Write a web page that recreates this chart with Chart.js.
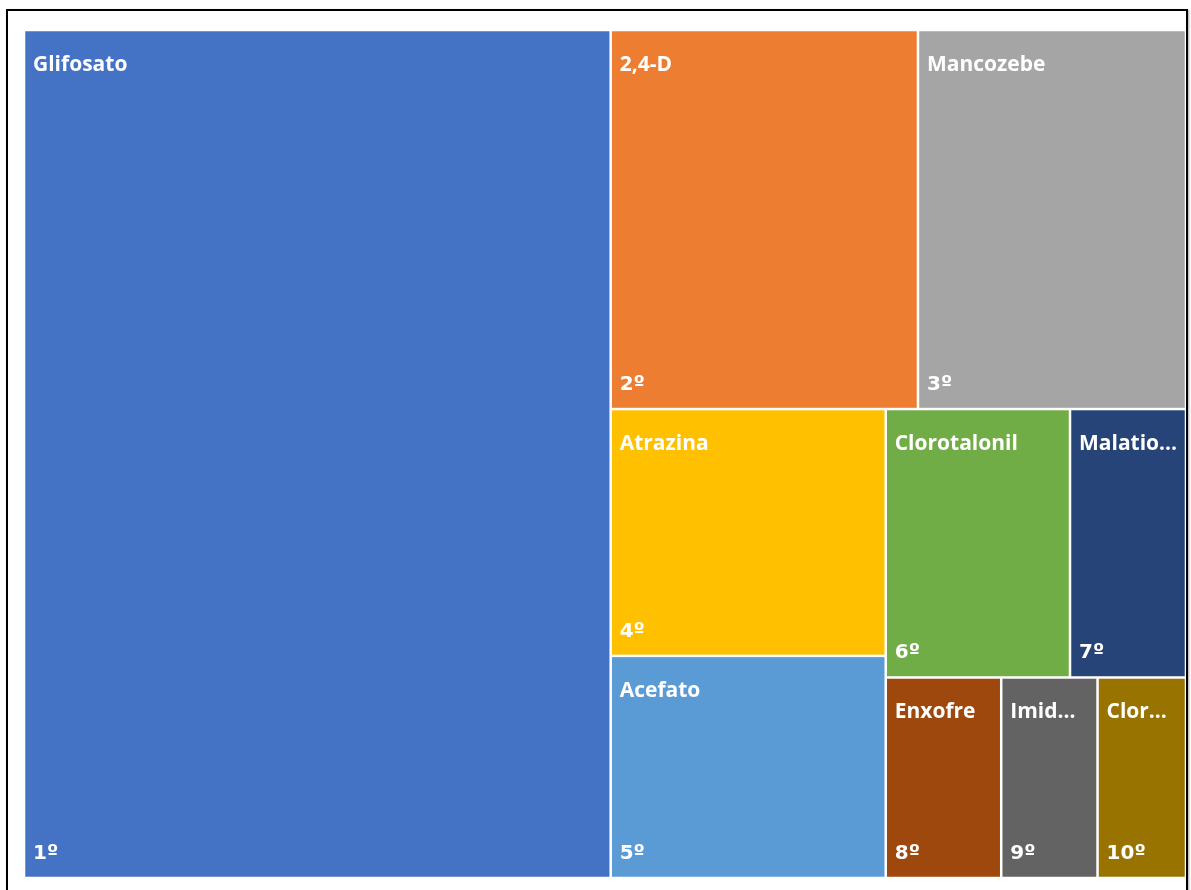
<!DOCTYPE html>
<html>
<head>
<meta charset="utf-8">
<script src="https://cdn.jsdelivr.net/npm/chart.js@4.4.1/dist/chart.umd.min.js"></script>
<style>
  html, body { margin: 0; padding: 0; background: #fff; overflow: hidden; }
  #frame {
    position: absolute; left: 6px; top: 9px; width: 1178px; height: 900px;
    border: 2px solid #000; box-shadow: 1px 1px 2px rgba(0,0,0,0.35);
  }
  #wrap { position: absolute; left: 0; top: 0; width: 1191px; height: 890px; }
</style>
</head>
<body>
<div id="frame"></div>
<div id="wrap"><canvas id="treeChart" width="1191" height="890"></canvas></div>
<script>
// ranking dos ingredientes ativos (participação em %)
const categories = ['Glifosato', '2,4-D', 'Mancozebe', 'Atrazina', 'Acefato', 'Clorotalonil', 'Malatio...', 'Enxofre', 'Imid...', 'Clor...'];
const shares = [50.49, 11.82, 10.31, 6.89, 6.20, 5.02, 3.16, 2.35, 1.96, 1.80];
const rankLabels = ['1º', '2º', '3º', '4º', '5º', '6º', '7º', '8º', '9º', '10º'];
const colors = ['#4472C4', '#ED7D31', '#A5A5A5', '#FFC000', '#5B9BD5', '#70AD47', '#264478', '#9E480E', '#636363', '#997300'];

// score of a strip: area-weighted aspect ratio of its cells
const stripScore = (areas, len)=>{
    let sum = areas.reduce((a, b)=>a + b, 0);
    let t = sum / len;
    let s = 0;
    areas.forEach(a=>{
        let l = a / t;
        s += a * Math.max(t / l, l / t);
    });
    return s / sum;
}

// squarified layout in a W x H box, returns rects in the same units
const layoutTreemap = (vals, W, H)=>{
    let total = vals.reduce((a, b)=>a + b, 0);
    let areas = vals.map(v=>v * W * H / total);
    let rects = [];
    let x = 0, y = 0, w = W, h = H, i = 0;
    while(i < areas.length){
        let column;
        let row;
        if(areas.length - i <= 3){
            // last few items go in a single strip along the long side
            column = w < h;
            row = areas.slice(i);
        }else{
            column = w >= h;
            let len = column ? h : w;
            row = [areas[i]];
            let best = stripScore(row, len);
            while(i + row.length < areas.length){
                let cand = row.concat([areas[i + row.length]]);
                let sc = stripScore(cand, len);
                if(sc <= best){ row = cand; best = sc; } else break;
            }
        }
        let sum = row.reduce((a, b)=>a + b, 0);
        if(column){
            let t = sum / h, yy = y;
            row.forEach(a=>{ rects.push({x: x, y: yy, w: t, h: a / t}); yy += a / t; });
            x += t; w -= t;
        }else{
            let t = sum / w, xx = x;
            row.forEach(a=>{ rects.push({x: xx, y: y, w: a / t, h: t}); xx += a / t; });
            y += t; h -= t;
        }
        i += row.length;
    }
    return rects;
}

const treemapPlugin = {
    id: 'treemapCells',
    beforeDatasetsDraw(chart){
        const ctx = chart.ctx;
        const xs = chart.scales.x;
        const ys = chart.scales.y;
        const area = chart.chartArea;
        const W = (area.right - area.left) / (area.bottom - area.top);
        const rects = layoutTreemap(shares, W, 1);
        const gap = 1.25;
        ctx.save();
        rects.forEach((r, i)=>{
            let x0 = xs.getPixelForValue(r.x / W);
            let x1 = xs.getPixelForValue((r.x + r.w) / W);
            let y0 = ys.getPixelForValue(r.y);
            let y1 = ys.getPixelForValue(r.y + r.h);
            ctx.fillStyle = colors[i];
            ctx.fillRect(x0 + gap, y0 + gap, x1 - x0 - 2 * gap, y1 - y0 - 2 * gap);

            ctx.fillStyle = '#ffffff';
            ctx.textBaseline = 'alphabetic';
            ctx.textAlign = 'left';
            ctx.font = 'bold 21px "Open Sans"';
            ctx.fillText(categories[i], x0 + 9, y0 + 41);
            ctx.font = 'bold 20px "DejaVu Sans"';
            ctx.fillText(rankLabels[i], x0 + 9, y1 - 19);
        });
        ctx.restore();
    }
};

const treeChart = new Chart(document.getElementById('treeChart').getContext('2d'), {
    type: 'scatter',
    data: {
        datasets: [{
            label: 'Ingredientes ativos',
            data: [],
            pointRadius: 0
        }]
    },
    options: {
        responsive: false,
        animation: false,
        layout: { padding: { left: 24, top: 30, right: 5, bottom: 12 } },
        scales: {
            x: { type: 'linear', min: 0, max: 1, display: false },
            y: { type: 'linear', min: 0, max: 1, reverse: true, display: false }
        },
        plugins: {
            legend: { display: false },
            tooltip: { enabled: false }
        }
    },
    plugins: [treemapPlugin]
});
</script>
</body>
</html>
